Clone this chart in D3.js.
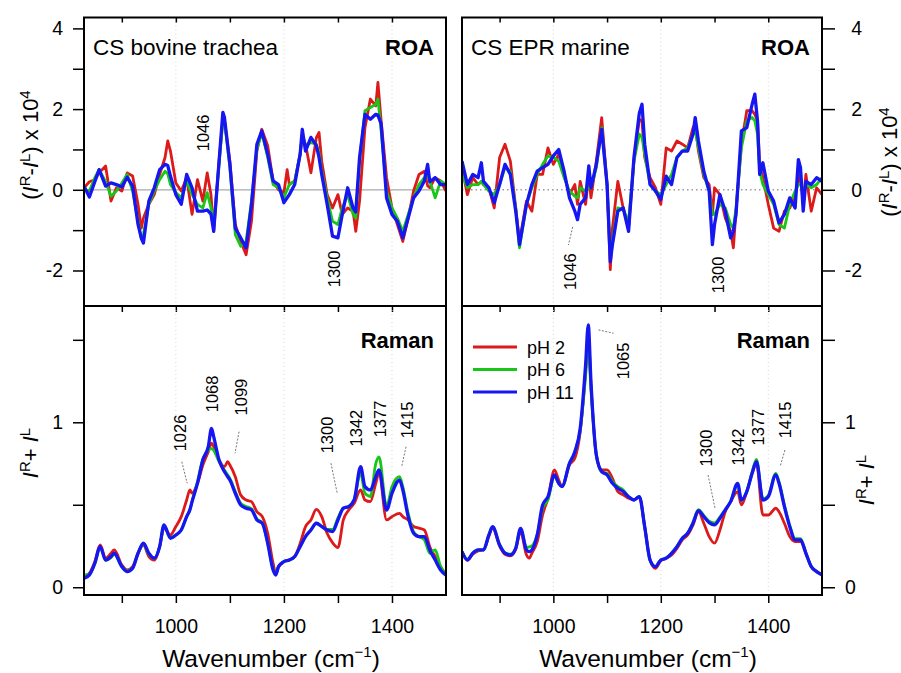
<!DOCTYPE html>
<html>
<head>
<meta charset="utf-8">
<script src="https://cdn.jsdelivr.net/npm/d3@7"></script>
<style>
  body { margin: 0; background: #fff; }
  svg { display: block; }
  text { font-family: "Liberation Sans", Arial, sans-serif; fill: #000; }
</style>
</head>
<body>
<div id="my_dataviz"></div>
<script>
// ---- data ----
const seriesNames = ['pH 2', 'pH 6', 'pH 11']

// ROA, CS bovine trachea
const roaBovineWn = [830,840,850,858,870,880,890,900,910,920,
  930,936,940,950,960,970,980,985,990,1000,
  1010,1020,1030,1040,1050,1058,1065,1070,1080,1087,
  1090,1100,1110,1120,1130,1140,1150,1159,1170,1180,
  1190,1200,1206,1210,1220,1230,1234,1240,1250,1260,
  1265,1270,1280,1290,1300,1308,1318,1328,1333,1340,
  1350,1360,1370,1374,1380,1390,1400,1410,1420,1430,
  1440,1450,1460,1466,1470,1480,1490,1500]
const roaBovinePh2 = [0.05,0.2,0.25,0.42,0.59,-0.28,0.05,-0.03,0.42,0.34,
  -0.36,-0.95,-0.7,-0.36,-0.12,0.38,0.8,1.21,0.96,0.17,
  -0.03,0.3,-0.61,0.25,-0.28,0.42,-0.12,-1.03,0.71,1.75,
  1.7,0.71,-0.86,-1.28,-1.61,-0.78,0.96,1.5,1.09,0.22,
  0.0,-0.07,0.5,0.13,0.22,0.88,1.33,1.13,0.42,1.29,
  1.42,0.71,-0.12,-0.45,-0.12,-0.61,-0.45,-0.53,-1.03,-0.28,
  1.54,2.25,2.08,2.66,1.71,0.3,-0.45,-0.86,-1.28,-0.7,
  -0.03,0.38,0.46,0.1,0.05,0.3,0.22,-0.03]
const roaBovinePh6 = [0.0,-0.03,0.3,0.5,0.2,-0.16,-0.03,0.17,0.38,-0.03,
  -0.78,-1.19,-1.11,-0.36,-0.03,0.25,0.46,0.4,0.13,-0.07,
  -0.2,0.22,-0.12,-0.36,-0.45,-0.07,-0.45,-0.86,0.63,1.7,
  1.7,0.55,-1.11,-1.4,-1.28,-0.28,1.0,1.42,0.8,0.13,
  0.05,-0.2,0.0,0.13,0.22,0.88,1.38,1.09,1.17,1.13,
  0.9,0.46,-0.2,-0.78,-0.86,-0.45,-0.12,-0.61,-0.7,0.71,
  1.96,2.04,2.12,2.25,1.46,-0.03,-0.45,-0.7,-1.03,-0.61,
  -0.2,0.13,0.3,0.35,0.22,-0.2,0.22,0.13]
const roaBovinePh11 = [0.09,-0.18,0.2,0.5,0.09,0.17,0.13,0.07,0.31,0.09,
  -0.86,-1.2,-1.32,-0.28,0.05,0.5,0.63,0.6,0.34,-0.12,
  -0.36,0.38,0.05,-0.53,-0.53,-0.5,-0.6,-1.03,0.71,1.92,
  1.79,0.63,-0.95,-1.19,-1.44,-0.36,1.13,1.46,0.88,0.22,
  0.13,-0.32,-0.2,-0.12,0.13,0.88,1.5,0.96,1.3,1.1,
  0.8,0.38,-0.36,-1.15,-1.19,-0.61,0.05,-0.45,-0.55,0.8,
  1.87,1.75,1.87,1.85,1.63,-0.2,-0.61,-0.78,-1.19,-0.7,
  -0.2,-0.03,0.22,0.63,0.2,0.3,0.13,0.13]

// ROA, CS EPR marine
const roaMarineWn = [830,840,850,860,866,870,880,890,900,910,
  920,930,937,950,960,970,980,990,1000,1010,
  1020,1030,1040,1045,1050,1060,1066,1070,1080,1090,
  1100,1106,1110,1120,1130,1140,1150,1160,1165,1170,
  1180,1190,1200,1210,1220,1230,1240,1250,1260,1264,
  1270,1280,1290,1296,1300,1310,1320,1330,1335,1340,
  1350,1360,1370,1375,1380,1384,1390,1400,1410,1420,
  1430,1440,1450,1456,1460,1465,1470,1480,1490,1500]
const roaMarinePh2 = [0.55,-0.12,0.3,0.13,0.2,0.13,0.05,-0.45,0.8,1.13,
  0.71,-0.45,-1.28,-0.28,-0.53,0.38,0.38,1.04,0.63,0.88,
  0.38,-0.12,0.13,-0.36,0.21,-0.36,0.38,-0.2,0.71,1.79,
  0.13,-1.98,-0.95,0.21,-0.45,-0.95,0.71,1.75,1.7,0.8,
  0.3,0.05,-0.36,1.04,0.96,1.21,1.13,1.04,1.54,1.63,
  0.96,0.3,0.13,-0.61,0.05,-0.12,-0.7,-1.03,-1.44,-0.53,
  1.13,1.96,1.96,1.87,1.71,0.63,0.3,-0.36,-0.95,-1.03,
  -0.53,-0.45,-0.12,0.21,0.38,-0.36,0.38,-0.53,0.05,-0.12]
const roaMarinePh6 = [0.38,0.05,0.13,0.13,0.21,0.13,-0.03,-0.12,0.13,0.55,
  0.46,-0.45,-1.44,-0.36,0.05,0.38,0.63,0.84,0.8,0.71,
  0.3,-0.03,-0.16,-0.2,0.05,-0.03,0.05,0.05,0.55,1.54,
  0.13,-1.61,-1.28,-0.45,-0.49,-0.78,0.71,1.38,1.3,0.88,
  0.13,-0.03,-0.12,0.13,0.38,0.8,0.96,1.04,1.38,1.46,
  1.04,0.38,-0.03,-0.61,-0.61,-0.36,-0.45,-0.86,-0.95,-0.45,
  1.04,1.71,1.79,1.71,1.38,0.46,0.13,-0.12,-0.36,-0.86,
  -0.95,-0.36,-0.03,0.13,0.13,-0.03,0.13,0.05,0.13,0.3]
const roaMarinePh11 = [0.71,0.13,0.38,0.3,0.67,0.21,0.05,-0.32,0.13,0.63,
  0.38,-0.53,-1.36,-0.36,0.13,0.46,0.55,0.63,0.84,1.0,
  0.46,-0.2,-0.53,-0.74,-0.36,-0.2,0.59,0.05,0.63,1.5,
  0.13,-1.78,-1.36,-0.53,-0.45,-1.03,0.8,1.9,2.12,1.13,
  0.13,-0.03,-0.24,0.34,0.13,0.8,0.96,0.96,1.38,1.79,
  1.21,0.46,-0.03,-1.36,-0.86,-0.12,-0.53,-1.19,-1.03,-0.61,
  1.46,1.54,2.12,2.37,1.71,0.38,0.67,-0.03,-0.28,-0.82,
  -0.61,-0.2,-0.45,0.75,0.55,-0.53,0.21,0.13,0.3,0.21]

// Raman, CS bovine trachea
const ramanBovineWn = [830,840,850,860,870,880,886,900,910,920,
  930,940,950,960,970,978,990,1000,1010,1020,
  1026,1030,1040,1050,1060,1066,1070,1080,1090,1096,
  1100,1110,1120,1130,1140,1150,1160,1170,1180,1185,
  1190,1200,1210,1220,1230,1240,1250,1260,1270,1280,
  1290,1300,1310,1320,1330,1342,1350,1360,1370,1376,
  1390,1400,1414,1420,1430,1440,1450,1460,1470,1480,
  1490,1500]
const ramanBovinePh2 = [0.064,0.085,0.155,0.256,0.176,0.206,0.226,0.135,0.105,0.125,
  0.206,0.256,0.186,0.165,0.246,0.358,0.317,0.368,0.428,0.529,
  0.59,0.57,0.63,0.741,0.822,0.873,0.852,0.771,0.731,0.761,
  0.741,0.67,0.559,0.529,0.519,0.458,0.428,0.327,0.145,0.085,
  0.125,0.155,0.165,0.186,0.266,0.368,0.408,0.472,0.428,0.327,
  0.27,0.24,0.408,0.468,0.509,0.59,0.529,0.519,0.63,0.691,
  0.408,0.428,0.448,0.428,0.408,0.368,0.358,0.347,0.246,0.186,
  0.125,0.074]
const ramanBovinePh6 = [0.075,0.08,0.145,0.24,0.165,0.18,0.2,0.125,0.1,0.115,
  0.206,0.26,0.2,0.176,0.246,0.37,0.3,0.317,0.347,0.428,
  0.47,0.519,0.64,0.78,0.83,0.84,0.83,0.76,0.71,0.68,
  0.66,0.58,0.51,0.49,0.475,0.415,0.39,0.27,0.11,0.085,
  0.125,0.155,0.165,0.186,0.246,0.307,0.347,0.388,0.37,0.35,
  0.35,0.42,0.48,0.49,0.53,0.69,0.57,0.55,0.75,0.79,
  0.49,0.61,0.67,0.61,0.448,0.337,0.307,0.287,0.206,0.226,
  0.125,0.085]
const ramanBovinePh11 = [0.054,0.075,0.145,0.246,0.165,0.186,0.206,0.125,0.095,0.115,
  0.206,0.267,0.206,0.176,0.246,0.378,0.297,0.317,0.347,0.428,
  0.47,0.519,0.63,0.771,0.852,0.963,0.913,0.771,0.7,0.67,
  0.65,0.57,0.499,0.479,0.469,0.408,0.388,0.266,0.105,0.074,
  0.125,0.155,0.165,0.186,0.246,0.307,0.347,0.388,0.368,0.347,
  0.337,0.408,0.479,0.489,0.529,0.731,0.61,0.59,0.67,0.711,
  0.468,0.569,0.65,0.59,0.428,0.327,0.307,0.307,0.226,0.165,
  0.105,0.074]

// Raman, CS EPR marine
const ramanMarineWn = [830,840,850,860,870,880,887,900,910,920,
  930,939,950,955,960,970,980,990,1002,1010,
  1016,1030,1040,1050,1060,1065,1070,1080,1090,1100,
  1110,1120,1130,1140,1150,1160,1170,1180,1190,1200,
  1210,1220,1230,1240,1250,1260,1270,1280,1290,1300,
  1310,1320,1330,1343,1350,1360,1370,1378,1390,1400,
  1414,1420,1430,1440,1450,1460,1470,1480,1490,1500]
const ramanMarinePh2 = [0.216,0.165,0.2,0.22,0.226,0.31,0.36,0.25,0.2,0.19,
  0.23,0.337,0.196,0.176,0.206,0.276,0.438,0.539,0.711,0.65,
  0.61,0.741,0.782,0.943,1.307,1.52,1.226,0.802,0.711,0.711,
  0.66,0.58,0.56,0.539,0.529,0.549,0.367,0.165,0.115,0.161,
  0.176,0.196,0.236,0.287,0.317,0.378,0.458,0.388,0.307,0.267,
  0.347,0.458,0.519,0.58,0.499,0.58,0.691,0.751,0.438,0.438,
  0.479,0.458,0.388,0.307,0.277,0.277,0.206,0.125,0.095,0.075]
const ramanMarinePh6 = [0.216,0.17,0.206,0.226,0.226,0.317,0.367,0.26,0.21,0.2,
  0.24,0.357,0.24,0.245,0.25,0.32,0.48,0.53,0.67,0.63,
  0.61,0.75,0.82,0.95,1.28,1.47,1.2,0.8,0.7,0.69,
  0.64,0.61,0.59,0.55,0.53,0.549,0.367,0.165,0.125,0.165,
  0.176,0.206,0.246,0.297,0.33,0.395,0.47,0.435,0.4,0.39,
  0.425,0.47,0.52,0.62,0.529,0.58,0.7,0.775,0.535,0.555,
  0.69,0.64,0.5,0.375,0.295,0.295,0.21,0.125,0.095,0.075]
const ramanMarinePh11 = [0.216,0.165,0.206,0.226,0.226,0.317,0.367,0.256,0.206,0.196,
  0.236,0.357,0.226,0.216,0.226,0.317,0.499,0.549,0.681,0.63,
  0.61,0.751,0.822,0.964,1.347,1.59,1.246,0.802,0.701,0.681,
  0.63,0.6,0.58,0.549,0.529,0.549,0.367,0.165,0.125,0.165,
  0.176,0.206,0.246,0.297,0.327,0.388,0.464,0.428,0.392,0.378,
  0.418,0.469,0.519,0.63,0.529,0.58,0.691,0.761,0.529,0.549,
  0.681,0.63,0.489,0.367,0.287,0.287,0.206,0.125,0.095,0.075]

// ticks
const wnTicks = [900, 1000, 1100, 1200, 1300, 1400]
const wnTickLabels = [1000, 1200, 1400]
const wnGrid = [1000, 1200, 1400]
const roaTicks = [-2, -1, 0, 1, 2, 3, 4]
const roaTickLabels = [-2, 0, 2, 4]
const ramanTicks = [0, 0.5, 1, 1.5]
const ramanTickLabels = [0, 1]

// peak labels [text, wn, value] and dashed leaders [wn1, v1, wn2, v2]
const roaBovinePeaks = [['1046', 1050, 1.41], ['1300', 1293, -1.96]]
const roaBovineLeaders = []
const roaMarinePeaks = [['1046', 1032, -2.03], ['1300', 1307, -2.11]]
const roaMarineLeaders = [[1036, -0.92, 1028, -1.37]]
const ramanBovinePeaks = [['1026', 1009, 0.935], ['1068', 1067, 1.172], ['1099', 1121, 1.153],
  ['1300', 1280, 0.923], ['1342', 1334, 0.965], ['1377', 1378, 1.02], ['1415', 1428, 1.014]]
const ramanBovineLeaders = [[1011, 0.761, 1021, 0.63], [1117, 0.943, 1109.5, 0.812],
  [1287, 0.752, 1299, 0.565], [1426, 0.852, 1418, 0.731]]
const ramanMarinePeaks = [['1065', 1130, 1.372], ['1300', 1284, 0.844], ['1342', 1344, 0.85],
  ['1377', 1381, 0.971], ['1415', 1431, 1.014]]
const ramanMarineLeaders = [[1084, 1.56, 1112, 1.54], [1288, 0.68, 1301, 0.478], [1431, 0.832, 1422, 0.731]]

// ---- layout ----
const width = 901
const height = 673
const colors = ['#dc1a1a', '#17c617', '#1616f2']
const lineWidths = [2.8, 2.8, 3.3]

const cols = [{ x0: 84, x1: 446 }, { x0: 462, x1: 822 }]
const rows = [{ y0: 17.5, y1: 306 }, { y0: 306, y1: 595 }]

const svg = d3.select('#my_dataviz')
  .append('svg')
  .attr('width', width)
  .attr('height', height)

const yRoa = d3.scaleLinear().domain([-2.88, 4.27]).range([rows[0].y1, rows[0].y0])
const yRaman = d3.scaleLinear().domain([-0.047, 1.705]).range([rows[1].y1, rows[1].y0])

const panels = [
  { col: 0, row: 0, y: yRoa, wn: roaBovineWn, series: [roaBovinePh2, roaBovinePh6, roaBovinePh11],
    curve: d3.curveLinear, zero: 'solid', name: 'CS bovine trachea', kind: 'ROA',
    peaks: roaBovinePeaks, leaders: roaBovineLeaders },
  { col: 1, row: 0, y: yRoa, wn: roaMarineWn, series: [roaMarinePh2, roaMarinePh6, roaMarinePh11],
    curve: d3.curveLinear, zero: 'dotted', name: 'CS EPR marine', kind: 'ROA',
    peaks: roaMarinePeaks, leaders: roaMarineLeaders },
  { col: 0, row: 1, y: yRaman, wn: ramanBovineWn, series: [ramanBovinePh2, ramanBovinePh6, ramanBovinePh11],
    curve: d3.curveMonotoneX, zero: null, name: null, kind: 'Raman',
    peaks: ramanBovinePeaks, leaders: ramanBovineLeaders },
  { col: 1, row: 1, y: yRaman, wn: ramanMarineWn, series: [ramanMarinePh2, ramanMarinePh6, ramanMarinePh11],
    curve: d3.curveMonotoneX, zero: null, name: null, kind: 'Raman',
    peaks: ramanMarinePeaks, leaders: ramanMarineLeaders, legend: true }
]

panels.forEach(function (p, i) {
  const c = cols[p.col]
  const r = rows[p.row]
  const x = d3.scaleLinear().domain([830, 1500]).range([c.x0, c.x1])
  const y = p.y
  const g = svg.append('g')

  svg.append('clipPath').attr('id', 'clip' + i)
    .append('rect')
    .attr('x', c.x0).attr('y', r.y0)
    .attr('width', c.x1 - c.x0).attr('height', r.y1 - r.y0)

  // faint dotted grid lines
  g.selectAll('.grid')
    .data(wnGrid)
    .enter()
    .append('line')
    .attr('x1', d => x(d)).attr('x2', d => x(d))
    .attr('y1', r.y0).attr('y2', r.y1)
    .attr('stroke', '#d6d6d6')
    .attr('stroke-dasharray', '1,3')

  if (p.zero) {
    g.append('line')
      .attr('x1', c.x0).attr('x2', c.x1)
      .attr('y1', y(0)).attr('y2', y(0))
      .attr('stroke', p.zero === 'solid' ? '#aaa' : '#999')
      .attr('stroke-width', p.zero === 'solid' ? 1.2 : 1.5)
      .attr('stroke-dasharray', p.zero === 'solid' ? null : '1.5,3')
  }

  // spectra: pH 2, pH 6, pH 11 (blue on top)
  const line = d3.line()
    .x(d => x(d[0]))
    .y(d => y(d[1]))
    .curve(p.curve)

  p.series.forEach(function (vals, k) {
    g.append('path')
      .datum(p.wn.map((w, j) => [w, vals[j]]))
      .attr('clip-path', 'url(#clip' + i + ')')
      .attr('d', line)
      .attr('fill', 'none')
      .attr('stroke', colors[k])
      .attr('stroke-width', lineWidths[k])
      .attr('stroke-linejoin', 'round')
  })

  // frame
  g.append('rect')
    .attr('x', c.x0).attr('y', r.y0)
    .attr('width', c.x1 - c.x0).attr('height', r.y1 - r.y0)
    .attr('fill', 'none')
    .attr('stroke', '#000')
    .attr('stroke-width', 2)

  // x ticks: inward at the top, down across the shared edge, outward at the bottom
  const tickLen = p.row === 0 ? 5 : 8
  const xAxis = d3.axisBottom(x)
    .tickValues(wnTicks)
    .tickSize(tickLen)
    .tickPadding(16)
    .tickFormat(d => (p.row === 1 && wnTickLabels.includes(d)) ? d : '')
  const xg = g.append('g')
    .attr('transform', 'translate(0,' + (p.row === 0 ? r.y0 : r.y1) + ')')
    .call(xAxis)
  xg.select('.domain').remove()
  xg.selectAll('line').attr('stroke', '#000').attr('stroke-width', 1.5)
  xg.selectAll('text').attr('font-size', 19.5).attr('font-family', '"Liberation Sans", Arial, sans-serif')

  if (p.row === 0) {
    const sep = g.append('g')
      .attr('transform', 'translate(0,' + r.y1 + ')')
      .call(d3.axisBottom(x).tickValues(wnTicks).tickSize(6).tickFormat(''))
    sep.select('.domain').remove()
    sep.selectAll('line').attr('stroke', '#000').attr('stroke-width', 1.5)
  }

  // y ticks: left column on the left, right column on the right
  const ticks = p.row === 0 ? roaTicks : ramanTicks
  const tickLabels = p.row === 0 ? roaTickLabels : ramanTickLabels
  const yAxis = (p.col === 0 ? d3.axisLeft(y) : d3.axisRight(y))
    .tickValues(ticks)
    .tickSize(p.col === 0 ? 11 : 13)
    .tickPadding(10)
    .tickFormat(d => tickLabels.includes(d) ? d3.format('d')(d).replace('−', '-') : '')
  const yg = g.append('g')
    .attr('transform', 'translate(' + (p.col === 0 ? c.x0 : c.x1) + ',0)')
    .call(yAxis)
  yg.select('.domain').remove()
  yg.selectAll('line').attr('stroke', '#000').attr('stroke-width', 1.5)
  yg.selectAll('text').attr('font-size', 19.5).attr('font-family', '"Liberation Sans", Arial, sans-serif')
  if (p.col === 1 && p.row === 0) {
    yg.selectAll('text').attr('text-anchor', 'end').attr('x', 40)
  }

  // panel captions
  if (p.name) {
    g.append('text')
      .attr('x', c.x0 + 9).attr('y', 55)
      .attr('font-size', 22.5)
      .text(p.name)
  }
  g.append('text')
    .attr('x', c.x1 - 12).attr('y', p.row === 0 ? 55 : 348)
    .attr('text-anchor', 'end')
    .attr('font-size', 22)
    .attr('font-weight', 'bold')
    .text(p.kind)

  // peak labels
  g.selectAll('.peak')
    .data(p.peaks)
    .enter()
    .append('text')
    .attr('transform', d => 'translate(' + x(d[1]) + ',' + y(d[2]) + ') rotate(-90)')
    .attr('text-anchor', 'middle')
    .attr('dy', '0.35em')
    .attr('font-size', 16.5)
    .text(d => d[0])

  g.selectAll('.leader')
    .data(p.leaders)
    .enter()
    .append('line')
    .attr('x1', d => x(d[0])).attr('y1', d => y(d[1]))
    .attr('x2', d => x(d[2])).attr('y2', d => y(d[3]))
    .attr('stroke', '#555')
    .attr('stroke-width', 0.8)
    .attr('stroke-dasharray', '2,1.5')

  // legend
  if (p.legend) {
    const lg = g.append('g')
    seriesNames.forEach(function (nm, k) {
      const ly = 347 + k * 22.5
      lg.append('line')
        .attr('x1', c.x0 + 11).attr('x2', c.x0 + 55)
        .attr('y1', ly).attr('y2', ly)
        .attr('stroke', colors[k])
        .attr('stroke-width', 3)
      lg.append('text')
        .attr('x', c.x0 + 65).attr('y', ly + 6.5)
        .attr('font-size', 18)
        .text(nm)
    })
  }
})

// ---- axis titles ----
function addSup(t, s) {
  t.append('tspan').attr('dy', -8).attr('font-size', '0.68em').text(s)
}

function roaTitle(cx, cy) {
  const t = svg.append('text')
    .attr('transform', 'translate(' + cx + ',' + cy + ') rotate(-90)')
    .attr('text-anchor', 'middle')
    .attr('dy', '0.35em')
    .attr('font-size', 22)
  t.append('tspan').text('(')
  t.append('tspan').attr('font-style', 'italic').text('I')
  addSup(t, 'R')
  t.append('tspan').attr('dy', 8).text('-')
  t.append('tspan').attr('font-style', 'italic').text('I')
  addSup(t, 'L')
  t.append('tspan').attr('dy', 8).text(') x 10')
  addSup(t, '4')
}

function ramanTitle(cx, cy) {
  const t = svg.append('text')
    .attr('transform', 'translate(' + cx + ',' + cy + ') rotate(-90)')
    .attr('text-anchor', 'middle')
    .attr('dy', '0.35em')
    .attr('font-size', 22)
  t.append('tspan').attr('font-style', 'italic').text('I')
  addSup(t, 'R')
  t.append('tspan').attr('dy', 8).text('+ ')
  t.append('tspan').attr('font-style', 'italic').text('I')
  addSup(t, 'L')
}

roaTitle(30, 145)
roaTitle(889, 162)
ramanTitle(30, 453)
ramanTitle(866, 480)

cols.forEach(function (c) {
  const t = svg.append('text')
    .attr('x', (c.x0 + c.x1) / 2 + 6)
    .attr('y', 667)
    .attr('text-anchor', 'middle')
    .attr('font-size', 24.5)
  t.append('tspan').text('Wavenumber (cm')
  t.append('tspan').attr('dy', -10).attr('font-size', 15).text('\u22121')
  t.append('tspan').attr('dy', 10).text(')')
})
</script>
</body>
</html>
